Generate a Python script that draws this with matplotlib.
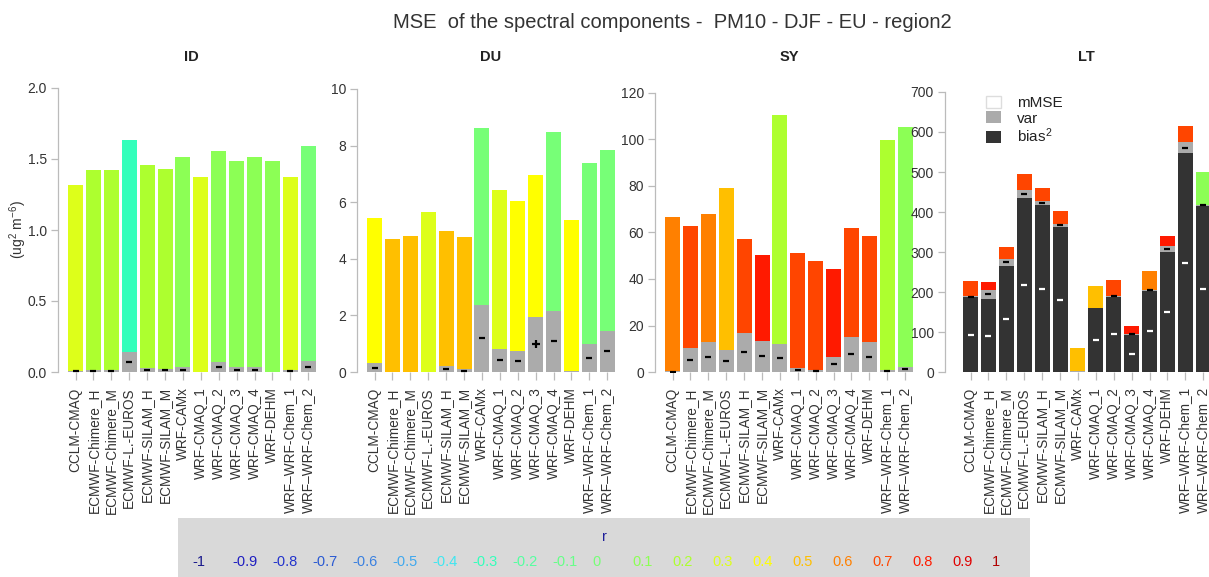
import matplotlib
matplotlib.use('Agg')
import matplotlib.pyplot as plt
from matplotlib.patches import Patch, Rectangle
import numpy as np

plt.rcParams['font.family'] = ['Liberation Sans', 'DejaVu Sans']
plt.rcParams['mathtext.default'] = 'regular'

# ---------------- data ----------------
models = ['CCLM-CMAQ', 'ECMWF-Chimere_H', 'ECMWF-Chimere_M', 'ECMWF-L.-EUROS',
          'ECMWF-SILAM_H', 'ECMWF-SILAM_M', 'WRF-CAMx', 'WRF-CMAQ_1', 'WRF-CMAQ_2',
          'WRF-CMAQ_3', 'WRF-CMAQ_4', 'WRF-DEHM', 'WRF\u2013WRF-Chem_1', 'WRF\u2013WRF-Chem_2']
panel_names = ['ID', 'DU', 'SY', 'LT']

# ID
id_bias = [0.001] * 14
id_var = [0.007, 0.016, 0.016, 0.141, 0.024, 0.021, 0.031, 0.002, 0.068, 0.033, 0.033, 0.002, 0.016, 0.075]
id_mmse = [1.311, 1.408, 1.408, 1.490, 1.435, 1.410, 1.480, 1.372, 1.485, 1.449, 1.480, 1.480, 1.353, 1.518]
id_r = [0.3, 0.2, 0.2, -0.3, 0.2, 0.2, 0.1, 0.3, 0.1, 0.1, 0.1, 0.1, 0.3, 0.0]
id_var_sign = ['-', '-', '-', '-', '-', '-', '-', '', '-', '-', '-', '', '-', '-']
id_bias_sign = [''] * 14

# DU
du_bias = [0.005] * 14
du_var = [0.30, 0.01, 0.01, 0.00, 0.20, 0.09, 2.38, 0.81, 0.74, 1.94, 2.16, 0.02, 0.98, 1.44]
du_mmse = [5.12, 4.69, 4.80, 5.66, 4.77, 4.69, 6.22, 5.62, 5.29, 5.01, 6.31, 5.34, 6.41, 6.41]
du_r = [0.4, 0.5, 0.5, 0.3, 0.5, 0.5, 0.0, 0.3, 0.4, 0.4, 0.0, 0.4, 0.0, 0.0]
du_var_sign = ['-', '', '', '', '-', '-', '-', '-', '-', '+', '-', '', '-', '-']
du_bias_sign = [''] * 14

# SY
sy_bias = [0.05] * 14
sy_var = [0.3, 10.1, 12.8, 9.6, 16.8, 13.4, 11.9, 1.6, 0.7, 6.6, 15.2, 12.9, 0.9, 2.3]
sy_mmse = [66.2, 52.6, 55.2, 69.7, 40.3, 36.9, 98.6, 49.4, 47.2, 37.5, 46.9, 45.6, 98.7, 102.9]
sy_r = [0.6, 0.7, 0.6, 0.5, 0.7, 0.8, 0.2, 0.7, 0.7, 0.8, 0.7, 0.7, 0.2, 0.1]
sy_var_sign = ['-'] * 14
sy_bias_sign = [''] * 14

# LT
lt_bias = [187, 182, 266, 435, 417, 362, 1, 159, 188, 92, 203, 299, 547, 416]
lt_var = [3, 24, 16, 19, 10, 9, 1, 1, 2, 4, 2, 17, 28, 2]
lt_mmse = [38, 18, 31, 40, 32, 32, 59, 56, 40, 18, 47, 24, 41, 81]
lt_r = [0.7, 0.8, 0.7, 0.7, 0.7, 0.7, 0.5, 0.5, 0.7, 0.8, 0.6, 0.8, 0.7, 0.1]
lt_var_sign = ['-', '-', '-', '-', '-', '-', '', '', '-', '-', '-', '-', '-', '-']
lt_bias_sign = ['-', '-', '-', '-', '-', '-', '', '-', '-', '-', '-', '-', '-', '-']

y_ticks = [[0, 0.5, 1.0, 1.5, 2.0], [0, 2, 4, 6, 8, 10],
           [0, 20, 40, 60, 80, 100, 120], [0, 100, 200, 300, 400, 500, 600, 700]]

r_levels = [-1.0, -0.9, -0.8, -0.7, -0.6, -0.5, -0.4, -0.3, -0.2, -0.1, 0.0,
            0.1, 0.2, 0.3, 0.4, 0.5, 0.6, 0.7, 0.8, 0.9, 1.0]
r_colors = ['#1A1A8C', '#1E1EC0', '#2233CC', '#2A5AD2', '#3A80E0', '#40A8EE', '#40E6F0',
            '#33FFBB', '#55FFA0', '#66FF88', '#77FF77', '#8CFF55', '#ADFF2F', '#DDFF1A',
            '#FFFF00', '#FFBF00', '#FF8000', '#FF4500', '#FF1A00', '#E00000', '#B00000']

data = {
    'ID': (id_bias, id_var, id_mmse, id_r, id_var_sign, id_bias_sign),
    'DU': (du_bias, du_var, du_mmse, du_r, du_var_sign, du_bias_sign),
    'SY': (sy_bias, sy_var, sy_mmse, sy_r, sy_var_sign, sy_bias_sign),
    'LT': (lt_bias, lt_var, lt_mmse, lt_r, lt_var_sign, lt_bias_sign),
}

def r_color(r):
    return r_colors[int(round((r + 1) * 10))]

# ---------------- layout ----------------
W, H = 1209, 577
fig = plt.figure(figsize=(W / 100, H / 100), dpi=100)

def fx(px):
    return px / W

def fy(py):
    return 1 - py / H

axis_px = [58, 357, 655, 945]
first_bar_px = [68, 367, 665, 963]
top_tick_px = [88, 89, 93, 92]
right_px = [322, 620, 918, 1240]
pitch = 17.9
bar_w_px = 15.0
y0_px, ytop_px = 372, 80

BIAS_C = '#333333'
VAR_C = '#ABABAB'
AX_C = '#BBBBBB'
TXT_C = '#333333'

axes = []
for k, name in enumerate(panel_names):
    bias, var, mmse, rr, vs, bs = data[name]
    ax = fig.add_axes([fx(axis_px[k]), fy(y0_px), fx(right_px[k]) - fx(axis_px[k]),
                       fy(ytop_px) - fy(y0_px)])
    axes.append(ax)
    ax.patch.set_alpha(0)
    c0 = first_bar_px[k] + bar_w_px / 2
    ax.set_xlim((axis_px[k] - c0) / pitch, (right_px[k] - c0) / pitch)
    ticks = y_ticks[k]
    ax.set_ylim(0, (y0_px - ytop_px) * ticks[-1] / (y0_px - top_tick_px[k]))

    x = np.arange(len(models))
    bias = np.array(bias, float)
    var = np.array(var, float)
    mmse = np.array(mmse, float)
    w = bar_w_px / pitch
    ax.bar(x, bias, width=w, color=BIAS_C, linewidth=0)
    ax.bar(x, var, width=w, bottom=bias, color=VAR_C, linewidth=0)
    ax.bar(x, mmse, width=w, bottom=bias + var, color=[r_color(v) for v in rr], linewidth=0)

    for i in range(len(models)):
        if vs[i]:
            mk = '_' if vs[i] == '-' else '+'
            ax.scatter([x[i]], [bias[i] + var[i] / 2], marker=mk, s=14 if mk == '_' else 40,
                       color='black', linewidths=1.6, zorder=5)
        if bs[i]:
            ax.scatter([x[i]], [bias[i] / 2], marker='_', s=14, color='white',
                       linewidths=1.6, zorder=5)

    for s in ['top', 'right', 'bottom']:
        ax.spines[s].set_visible(False)
    ax.spines['left'].set_color(AX_C)
    ax.spines['left'].set_linewidth(0.9)
    ax.spines['left'].set_bounds(0, ticks[-1])
    ax.set_yticks(ticks)
    if name == 'ID':
        ax.set_yticklabels(['%.1f' % t for t in ticks])
    else:
        ax.set_yticklabels(['%d' % t for t in ticks])
    ax.tick_params(axis='y', length=5, width=0.9, color=AX_C, labelcolor=TXT_C,
                   labelsize=10, pad=3)
    ax.set_xticks(x)
    ax.set_xticklabels(models, rotation=90)
    ax.tick_params(axis='x', length=6, width=0.9, color=AX_C, labelcolor=TXT_C,
                   labelsize=9.8, pad=5)
    cx = c0 + 6.5 * pitch
    fig.text(fx(cx), fy(57), name, ha='center', va='center', fontsize=10.5,
             fontweight='bold', color='#222222')

axes[3].legend(handles=[Patch(facecolor='white', edgecolor='#DDDDDD', label='mMSE'),
                        Patch(facecolor=VAR_C, label='var'),
                        Patch(facecolor=BIAS_C, label='bias$^2$')],
               loc='upper left', bbox_to_anchor=(fx(986), fy(96)), bbox_transform=fig.transFigure,
               frameon=False, fontsize=11, handlelength=1.0, handleheight=0.85,
               handletextpad=1.0, labelspacing=0.05, borderaxespad=0, borderpad=0,
               labelcolor='#222222')

fig.text(fx(672), fy(23), 'MSE  of the spectral components -  PM10 - DJF - EU - region2',
         ha='center', va='center', fontsize=14.5, color='#333333')
fig.text(fx(18), fy(230), '(ug$^2$ m$^{-6}$)', rotation=90, ha='center', va='center',
         fontsize=10, color=TXT_C)

# colour key for r
fig.add_artist(Rectangle((fx(178), 0), fx(1030) - fx(178), fy(518), transform=fig.transFigure,
                         facecolor='#D9D9D9', edgecolor='none', zorder=0))
fig.text(fx(604), fy(537), 'r', ha='center', va='center', fontsize=10.5, color='#1E1E99')
for i, rv in enumerate(r_levels):
    lab = '%g' % rv
    fig.text(fx(192 + 40 * i), fy(562), lab, ha='left', va='center', fontsize=10.5,
             color=r_colors[i])

fig.savefig('out.png', dpi=100)
